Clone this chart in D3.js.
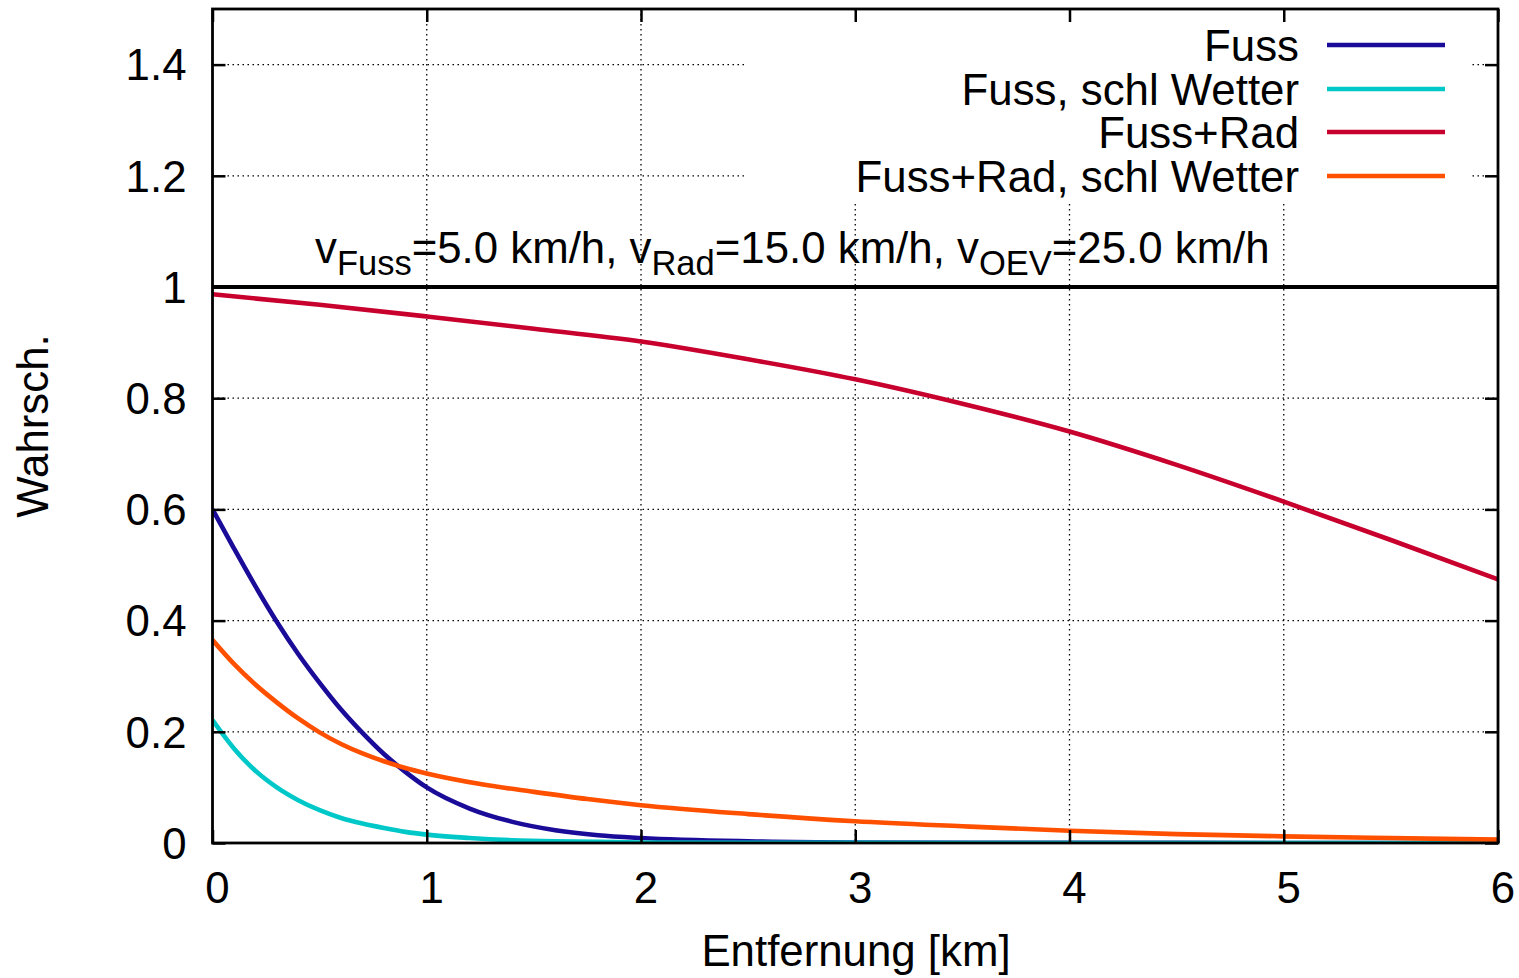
<html>
<head>
<meta charset="utf-8">
<title>Wahrsch.</title>
<script src="https://d3js.org/d3.v7.min.js"></script>
<style>
  body { margin: 0; background: #fff; }
  text { font-family: "Liberation Sans", Arial, Helvetica, sans-serif; fill: #000; }
</style>
</head>
<body>
<div id="graph"></div>
<script>
// values
var xTicks = [0, 1, 2, 3, 4, 5, 6];
var yTicks = [0, 0.2, 0.4, 0.6, 0.8, 1, 1.2, 1.4];
var yTickLabels = ["0", "0.2", "0.4", "0.6", "0.8", "1", "1.2", "1.4"];

var fussX = [0, 0.1, 0.2, 0.3, 0.4, 0.5, 0.6, 0.7, 0.8, 0.9, 1.0, 1.2, 1.4, 1.6, 1.8, 2.0, 2.5, 3, 4, 5, 6];
var fussY = [0.600, 0.530, 0.462, 0.398, 0.340, 0.288, 0.240, 0.198, 0.160, 0.128, 0.100, 0.062, 0.038, 0.023, 0.014, 0.009, 0.003, 0.001, 0.0003, 0.0001, 0];

var fussWetX = [0, 0.1, 0.2, 0.3, 0.4, 0.5, 0.6, 0.7, 0.8, 0.9, 1.0, 1.2, 1.4, 1.6, 1.8, 2.0, 2.5, 3, 4, 5, 6];
var fussWetY = [0.221, 0.170, 0.130, 0.100, 0.077, 0.059, 0.045, 0.035, 0.027, 0.020, 0.015, 0.009, 0.005, 0.003, 0.002, 0.001, 0.0004, 0.0002, 0, 0, 0];

var radX = [0, 0.5, 1, 1.5, 2, 2.5, 3, 3.5, 4, 4.5, 5, 5.5, 6];
var radY = [0.987, 0.968, 0.947, 0.925, 0.902, 0.870, 0.834, 0.790, 0.740, 0.680, 0.614, 0.545, 0.474];

var radWetX = [0, 0.1, 0.2, 0.3, 0.4, 0.5, 0.6, 0.7, 0.8, 0.9, 1.0, 1.25, 1.5, 1.75, 2, 2.5, 3, 3.5, 4, 4.5, 5, 5.5, 6];
var radWetY = [0.365, 0.322, 0.285, 0.253, 0.224, 0.199, 0.178, 0.161, 0.147, 0.135, 0.125, 0.106, 0.092, 0.079, 0.068, 0.052, 0.039, 0.030, 0.022, 0.016, 0.012, 0.009, 0.006];

var seriesNames = ["Fuss", "Fuss, schl Wetter", "Fuss+Rad", "Fuss+Rad, schl Wetter"];
var seriesColors = ["#1a0b99", "#00c8c8", "#c8002e", "#ff5000"];
var seriesX = [fussX, fussWetX, radX, radWetX];
var seriesY = [fussY, fussWetY, radY, radWetY];

var W = 1519, H = 978;
var margin = { left: 212.5, right: 21, top: 9, bottom: 135 };
var width = W - margin.left - margin.right;
var height = H - margin.top - margin.bottom;
var fs = 43.8;

var svg = d3.select("#graph").append("svg")
    .attr("width", W).attr("height", H);

var g = svg.append("g")
    .attr("transform", `translate(${margin.left},${margin.top})`);

var x = d3.scaleLinear().domain([0, 6]).range([0, width]);
var y = d3.scaleLinear().domain([0, 1.5]).range([height, 0]);

// grid
g.append("g").selectAll("line")
    .data(xTicks.slice(1, -1))
    .enter().append("line")
    .attr("x1", d => x(d)).attr("x2", d => x(d))
    .attr("y1", 0).attr("y2", height)
    .attr("stroke", "#000").attr("stroke-width", 1.3)
    .attr("stroke-dasharray", "1.5,3.5");
g.append("g").selectAll("line")
    .data(yTicks.filter(d => d > 0 && d !== 1))
    .enter().append("line")
    .attr("x1", 0).attr("x2", width)
    .attr("y1", d => y(d)).attr("y2", d => y(d))
    .attr("stroke", "#000").attr("stroke-width", 1.3)
    .attr("stroke-dasharray", "1.5,3.5");

// key area covers the grid
g.append("rect")
    .attr("x", 746 - margin.left).attr("y", 2)
    .attr("width", 1471 - 746).attr("height", 200 - margin.top)
    .attr("fill", "#fff");

// y = 1 reference line
g.append("line")
    .attr("x1", 0).attr("x2", width)
    .attr("y1", y(1)).attr("y2", y(1))
    .attr("stroke", "#000").attr("stroke-width", 4);

// curves
g.append("clipPath").attr("id", "clip")
    .append("rect").attr("width", width).attr("height", height);

var line = d3.line()
    .x(d => x(d[0]))
    .y(d => y(d[1]))
    .curve(d3.curveMonotoneX);

for (var i = 0; i < seriesNames.length; ++i) {
    var pts = seriesX[i].map((v, j) => [v, seriesY[i][j]]);
    g.append("path")
        .datum(pts)
        .attr("clip-path", "url(#clip)")
        .attr("fill", "none")
        .attr("stroke", seriesColors[i])
        .attr("stroke-width", 4.6)
        .attr("d", line);
}

// axes with inward ticks on all sides
function styleAxis(sel) {
    sel.select(".domain").remove();
    sel.selectAll(".tick line").attr("stroke", "#000").attr("stroke-width", 2.5);
    sel.selectAll(".tick text").remove();
}
g.append("g").attr("transform", `translate(0,${height})`)
    .call(d3.axisBottom(x).tickValues(xTicks).tickSize(-13)).call(styleAxis);
g.append("g")
    .call(d3.axisTop(x).tickValues(xTicks).tickSize(-13)).call(styleAxis);
g.append("g")
    .call(d3.axisLeft(y).tickValues(yTicks).tickSize(-13)).call(styleAxis);
g.append("g").attr("transform", `translate(${width},0)`)
    .call(d3.axisRight(y).tickValues(yTicks).tickSize(-13)).call(styleAxis);

// border
g.append("rect")
    .attr("width", width).attr("height", height)
    .attr("fill", "none").attr("stroke", "#000").attr("stroke-width", 2.8);

// tick labels
g.selectAll("text.xl")
    .data(xTicks).enter().append("text")
    .attr("x", d => x(d) + 5).attr("y", height + 60)
    .attr("text-anchor", "middle")
    .attr("font-size", fs)
    .text(d => d);
g.selectAll("text.yl")
    .data(yTicks).enter().append("text")
    .attr("x", -26).attr("y", d => y(d)).attr("dy", "0.36em")
    .attr("text-anchor", "end")
    .attr("font-size", fs)
    .text((d, i) => yTickLabels[i]);

// axis titles
svg.append("text")
    .attr("x", 856).attr("y", 966)
    .attr("text-anchor", "middle").attr("font-size", fs)
    .text("Entfernung [km]");
svg.append("text")
    .attr("transform", "translate(48,426) rotate(-90)")
    .attr("text-anchor", "middle").attr("font-size", fs)
    .text("Wahrsch.");

// speed label
var lab = svg.append("text")
    .attr("x", 315).attr("y", 263)
    .attr("font-size", fs);
var parts = [["v", "Fuss", "=5.0 km/h, "], ["v", "Rad", "=15.0 km/h, "], ["v", "OEV", "=25.0 km/h"]];
parts.forEach(function(p) {
    lab.append("tspan").attr("dy", 0).text(p[0]);
    lab.append("tspan").attr("dy", 12).attr("font-size", 34.5).text(p[1]);
    lab.append("tspan").attr("dy", -12).text(p[2]);
});

// legend
var legendY = [45, 89, 132, 176];
for (var k = 0; k < seriesNames.length; ++k) {
    svg.append("text")
        .attr("x", 1299).attr("y", legendY[k]).attr("dy", "0.36em")
        .attr("text-anchor", "end").attr("font-size", fs)
        .text(seriesNames[k]);
    svg.append("line")
        .attr("x1", 1327).attr("x2", 1445)
        .attr("y1", legendY[k]).attr("y2", legendY[k])
        .attr("stroke", seriesColors[k]).attr("stroke-width", 4.6);
}
</script>
</body>
</html>
